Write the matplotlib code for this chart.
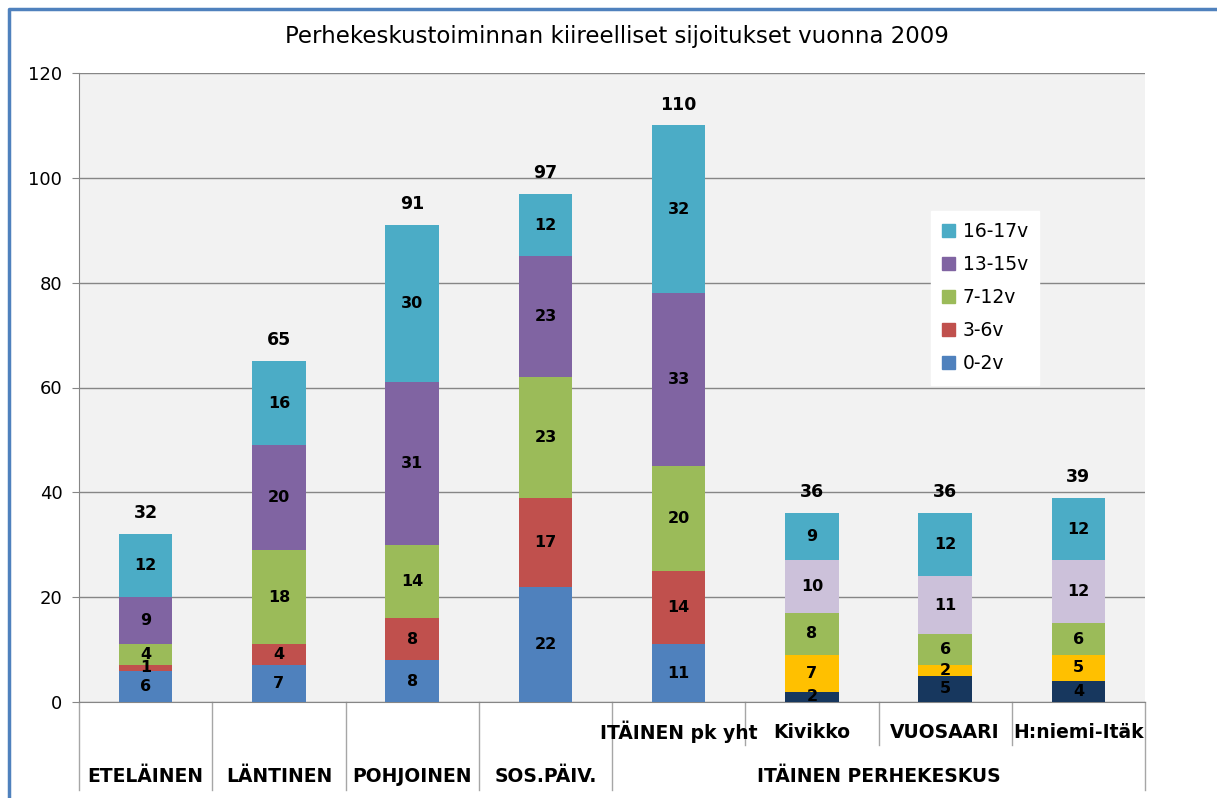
import numpy as np
import matplotlib
matplotlib.use("Agg")
import matplotlib.pyplot as plt
from matplotlib.lines import Line2D
from matplotlib.patches import Patch
import matplotlib.transforms as mtrans

categories = ["ETELÄINEN", "LÄNTINEN", "POHJOINEN", "SOS.PÄIV.",
              "ITÄINEN pk yht", "Kivikko", "VUOSAARI", "H:niemi-Itäk"]
group_label = "ITÄINEN PERHEKESKUS"
series = ["0-2v", "3-6v", "7-12v", "13-15v", "16-17v"]

v_0_2 = [6, 7, 8, 22, 11, 2, 5, 4]
v_3_6 = [1, 4, 8, 17, 14, 7, 2, 5]
v_7_12 = [4, 18, 14, 23, 20, 8, 6, 6]
v_13_15 = [9, 20, 31, 23, 33, 10, 11, 12]
v_16_17 = [12, 16, 30, 12, 32, 9, 12, 12]
values = [v_0_2, v_3_6, v_7_12, v_13_15, v_16_17]

main_colors = ["#4F81BD", "#C0504D", "#9BBB59", "#8064A2", "#4BACC6"]
sub_colors = ["#17375E", "#FFC000", "#9BBB59", "#CCC1DA", "#4BACC6"]

fig = plt.figure(figsize=(12.17, 7.98), dpi=100)
ax = fig.add_axes([79 / 1217, 1 - 702 / 798, 1066 / 1217, 629 / 798])
ax.set_facecolor("#F2F2F2")

x = np.arange(len(categories))
bottom = np.zeros(len(categories))
for i, vals in enumerate(values):
    cols = [main_colors[i] if j < 5 else sub_colors[i] for j in range(len(categories))]
    ax.bar(x, vals, 0.40, bottom=bottom, color=cols, zorder=3)
    for j, v in enumerate(vals):
        ax.text(x[j], bottom[j] + v / 2, str(v), ha="center", va="center",
                fontsize=11.5, fontweight="bold", zorder=4)
    bottom += np.array(vals)

for j, tot in enumerate(bottom):
    ax.annotate(str(int(tot)), (x[j], tot), xytext=(0, 15), textcoords="offset points",
                ha="center", va="center", fontsize=12.5, fontweight="bold")

ax.set_xlim(-0.5, len(categories) - 0.5)
ax.set_ylim(0, 120)
ax.set_yticks(range(0, 121, 20))
ax.tick_params(axis="y", labelsize=13, length=5, color="#868686", pad=7)
ax.set_xticks([])
ax.grid(axis="y", color="#868686", linewidth=1, zorder=0)
for s in ["top", "right"]:
    ax.spines[s].set_visible(False)
for s in ["left", "bottom"]:
    ax.spines[s].set_color("#868686")

# two-level category axis
tr = mtrans.blended_transform_factory(ax.transData, ax.transAxes)
full = -88 / 629
inner = -43 / 629
for b in np.arange(-0.5, len(categories), 1.0):
    depth = inner if 4 < b < 7 else full
    ax.add_line(Line2D([b, b], [0, depth], transform=tr, color="#A6A6A6",
                       linewidth=1, clip_on=False))
row1 = -30 / 629
row2 = -75 / 629
for j, name in enumerate(categories):
    ax.text(x[j], row2 if j < 4 else row1, name, transform=tr, ha="center", va="center",
            fontsize=13.5, fontweight="bold")
ax.text(5.5, row2, group_label, transform=tr, ha="center", va="center",
        fontsize=13.5, fontweight="bold")

handles = [Patch(color=main_colors[i], label=series[i]) for i in range(5)][::-1]
leg = ax.legend(handles=handles, loc="upper left", bbox_to_anchor=(0.799, 0.781),
                fontsize=13.5, frameon=True, fancybox=False, handlelength=0.7,
                handleheight=0.7, handletextpad=0.4, labelspacing=0.75,
                borderpad=0.6, borderaxespad=0)
leg.get_frame().set_facecolor("white")
leg.get_frame().set_edgecolor("white")
leg.get_frame().set_alpha(1)

fig.text(617 / 1217, 1 - 37 / 798, "Perhekeskustoiminnan kiireelliset sijoitukset vuonna 2009",
         ha="center", va="center", fontsize=16.5)

# outer chart border (blue), only left and top visible
fig.add_artist(Line2D([9 / 1217, 9 / 1217, 1.0], [0.0, 1 - 9 / 798, 1 - 9 / 798],
                      transform=fig.transFigure, color="#4F81BD", linewidth=2.5))

fig.savefig("out.png", dpi=100)
